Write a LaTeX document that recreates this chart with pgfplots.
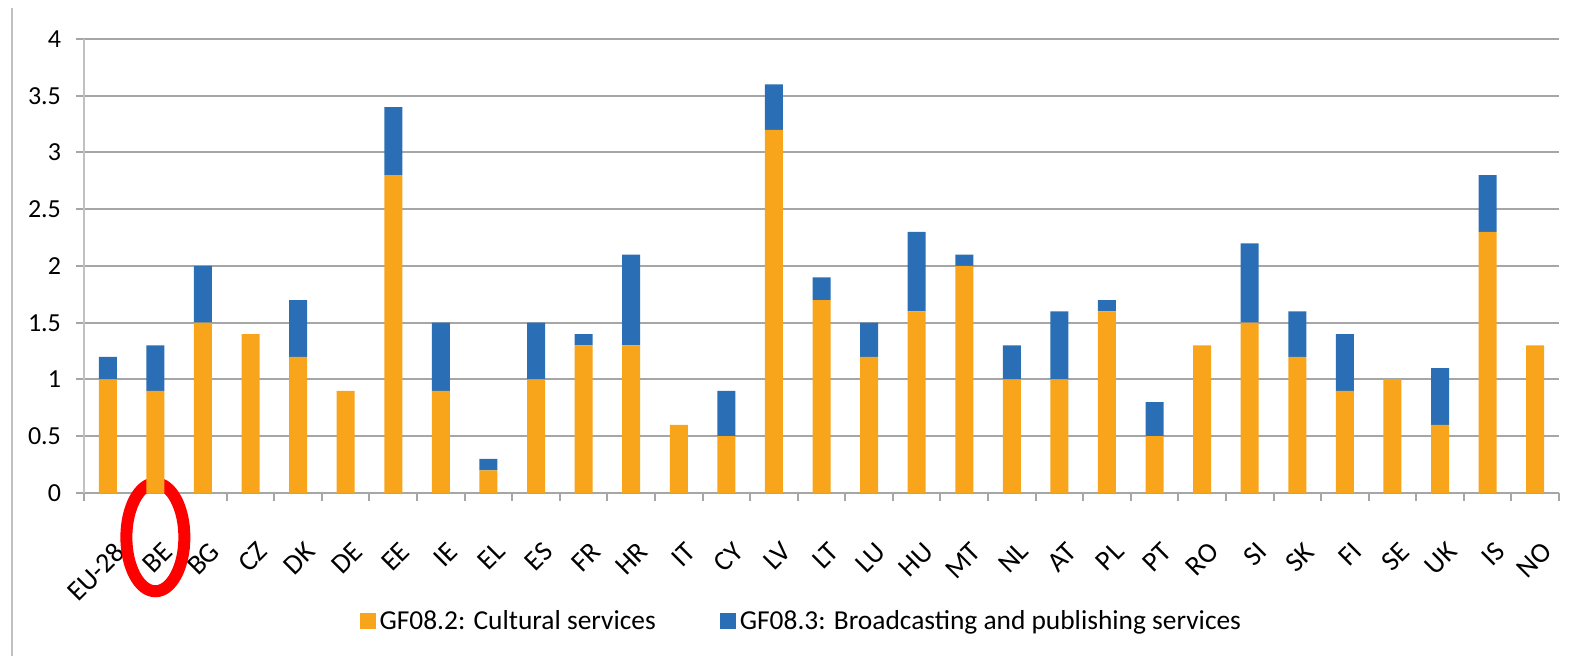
\documentclass[border=0pt]{standalone}
\usepackage{pgfplots}
\pgfplotsset{compat=1.18}
\usepackage{pgfplotstable}
\usepackage{fontspec}
\setmainfont{Carlito}
\definecolor{cult}{HTML}{F9A51C}
\definecolor{broad}{HTML}{2A6EB5}
\definecolor{gridg}{HTML}{A6A6A6}

\pgfplotstableread{
x cult broad
0 1.0 0.2
1 0.9 0.4
2 1.5 0.5
3 1.4 0.0
4 1.2 0.5
5 0.9 0.0
6 2.8 0.6
7 0.9 0.6
8 0.2 0.1
9 1.0 0.5
10 1.3 0.1
11 1.3 0.8
12 0.6 0.0
13 0.5 0.4
14 3.2 0.4
15 1.7 0.2
16 1.2 0.3
17 1.6 0.7
18 2.0 0.1
19 1.0 0.3
20 1.0 0.6
21 1.6 0.1
22 0.5 0.3
23 1.3 0.0
24 1.5 0.7
25 1.2 0.4
26 0.9 0.5
27 1.0 0.0
28 0.6 0.5
29 2.3 0.5
30 1.3 0.0
}\govdata

\begin{document}
\begin{tikzpicture}
\useasboundingbox (-42pt,-81.5pt) rectangle (745pt,246.5pt);
\draw[gridg!70, line width=1pt] (-36pt,242.5pt) -- (-36pt,-81.5pt);
\begin{axis}[
  at={(0,0)}, anchor=south west,
  scale only axis,
  width=737.5pt, height=227pt,
  ybar stacked,
  bar width=9pt,
  xmin=-0.5, xmax=30.5,
  ymin=0, ymax=4,
  ytick={0,0.5,...,4},
  yticklabel style={font=\fontsize{13}{15}\selectfont, xshift=-4pt},
  yticklabel={\pgfmathprintnumber[assume math mode=true]{\tick}},
  xtick={0,...,30},
  xticklabels={EU-28,BE,BG,CZ,DK,DE,EE,IE,EL,ES,FR,HR,IT,CY,LV,LT,LU,HU,MT,NL,AT,PL,PT,RO,SI,SK,FI,SE,UK,IS,NO},
  xticklabel style={rotate=45, anchor=north east, font=\fontsize{14}{16}\selectfont, inner sep=1pt, xshift=-10.9pt, yshift=-14.9pt},
  major x tick style={draw=none},
  minor xtick={-0.5,0.5,...,30.5},
  minor tick length=4pt,
  minor x tick style={gridg, line width=1pt},
  major tick length=4pt,
  tick align=outside,
  y tick style={gridg, line width=1pt},
  ymajorgrids=true,
  grid style={gridg, line width=1pt},
  axis x line*=bottom,
  axis y line*=left,
  x axis line style={gridg, line width=1pt, -},
  y axis line style={gridg!70, line width=1pt, -},
  clip=false,
  legend style={at={(0.487,-0.282)}, anchor=center, draw=none,
    legend columns=2, font=\fontsize{13.7}{15}\selectfont,
    /tikz/every even column/.append style={column sep=30pt}},
  legend image code/.code={\fill[#1] (0pt,-4pt) rectangle (8pt,4pt);},
]
\addplot[fill=cult, draw=none] table[x=x, y=cult] {\govdata};
\addlegendentry{GF08.2: Cultural services}
\addplot[fill=broad, draw=none] table[x=x, y=broad] {\govdata};
\addlegendentry{GF08.3: Broadcasting and publishing services}
\draw[red, line width=6pt] (axis cs:1,-0.39) ellipse [x radius=14.5pt, y radius=27pt];
\end{axis}
\end{tikzpicture}
\end{document}
